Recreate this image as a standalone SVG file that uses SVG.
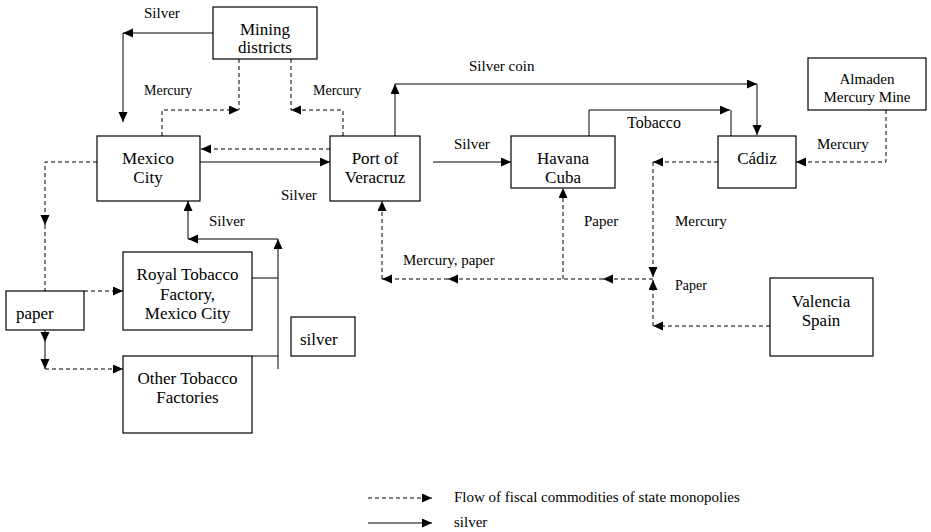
<svg xmlns="http://www.w3.org/2000/svg" width="931" height="532" viewBox="0 0 931 532" font-family="'Liberation Serif', 'Times New Roman', serif">
<defs>
<marker id="ah" markerUnits="userSpaceOnUse" markerWidth="11" markerHeight="10" refX="10" refY="4.5" orient="auto">
<path d="M0,0 L10,4.5 L0,9 z" fill="#000"/>
</marker>
</defs>
<style>
text{font-family:'Liberation Serif','Times New Roman',serif;fill:#000}
.box{fill:#fff;stroke:#000;stroke-width:1.2}
.t{font-size:17px;text-anchor:middle}
.tl{font-size:17px}
.lb{font-size:15px}
.sm{font-size:14px}
.s{fill:none;stroke:#000;stroke-width:1}
.d{fill:none;stroke:#000;stroke-width:1;stroke-dasharray:4,3}
.a{marker-end:url(#ah)}
</style>
<rect width="931" height="532" fill="#fff"/>

<g id="connectors">
<path class="s a" d="M213,33 H123"/>
<path class="s a" d="M123,33 V122"/>
<path class="d a" d="M162,136 V110 H239"/>
<path class="d" d="M239,59 V110"/>
<path class="d a" d="M343,136 V110 H291"/>
<path class="d" d="M291,59 V110"/>
<path class="d a" d="M330,149 H201"/>
<path class="s a" d="M200,162 H330"/>
<path class="d a" d="M97,162 H45 V225"/>
<path class="d" d="M45,225 V291"/>
<path class="d a" d="M84,291 H123"/>
<path class="s a" d="M45,330 V342"/>
<path class="s a" d="M45,342 V369"/>
<path class="d a" d="M45,369 H123"/>
<path class="s" d="M252,278 H278"/>
<path class="s" d="M252,356 H278"/>
<path class="s a" d="M278,369 V239"/>
<path class="s a" d="M278,239 H188"/>
<path class="s a" d="M188,239 V201"/>
<path class="s a" d="M395,136 V84"/>
<path class="s a" d="M395,84 H757"/>
<path class="s a" d="M757,84 V135"/>
<path class="s a" d="M589,136 V110 H730"/>
<path class="s" d="M731,110 V136"/>
<path class="s a" d="M433,162 H511"/>
<path class="d a" d="M886,110 V162 H796"/>
<path class="d a" d="M718,162 H653"/>
<path class="d a" d="M653,162 V277"/>
<path class="d a" d="M770,326 H653"/>
<path class="d a" d="M653,326 V280"/>
<path class="d a" d="M653,279 H603"/>
<path class="d a" d="M603,279 H448"/>
<path class="d a" d="M448,279 H382"/>
<path class="d a" d="M382,279 V201"/>
<path class="d a" d="M563,279 V188"/>

<text class="lb" x="144" y="18">Silver</text>
<text class="sm" x="144" y="95">Mercury</text>
<text class="sm" x="313" y="95">Mercury</text>
<text class="lb" x="281" y="200">Silver</text>
<text class="lb" x="209" y="226">Silver</text>
<text class="lb" x="469" y="71">Silver coin</text>
<text class="lb" x="454" y="149">Silver</text>
<text class="tl" x="627" y="128" style="font-size:16px">Tobacco</text>
<text class="lb" x="817" y="149">Mercury</text>
<text class="lb" x="675" y="226">Mercury</text>
<text class="lb" x="584" y="226">Paper</text>
<text class="lb" x="403" y="265">Mercury, paper</text>
<text class="sm" x="675" y="290">Paper</text>
</g>

<g id="mining">
<rect class="box" x="213" y="7" width="104" height="52"/>
<text class="t" x="265" y="35">Mining</text>
<text class="t" x="265" y="53">districts</text>
</g>
<g id="mexico">
<rect class="box" x="97" y="136" width="103" height="65"/>
<text class="t" x="148" y="164">Mexico</text>
<text class="t" x="148" y="183">City</text>
</g>
<g id="veracruz">
<rect class="box" x="330" y="136" width="90" height="65"/>
<text class="t" x="375" y="164">Port of</text>
<text class="t" x="375" y="183">Veracruz</text>
</g>
<g id="havana">
<rect class="box" x="511" y="136" width="104" height="52"/>
<text class="t" x="563" y="164">Havana</text>
<text class="t" x="563" y="183">Cuba</text>
</g>
<g id="cadiz">
<rect class="box" x="718" y="136" width="78" height="52"/>
<text class="t" x="757" y="164">Cádiz</text>
</g>
<g id="almaden">
<rect class="box" x="808" y="58" width="118" height="52"/>
<text class="t" x="867" y="84" style="font-size:15px">Almaden</text>
<text class="t" x="867" y="102" style="font-size:15px">Mercury Mine</text>
</g>
<g id="valencia">
<rect class="box" x="770" y="278" width="103" height="78"/>
<text class="t" x="821" y="307">Valencia</text>
<text class="t" x="821" y="326">Spain</text>
</g>
<g id="royal">
<rect class="box" x="123" y="252" width="129" height="78"/>
<text class="t" x="187.5" y="280">Royal Tobacco</text>
<text class="t" x="187.5" y="300">Factory,</text>
<text class="t" x="187.5" y="319">Mexico City</text>
</g>
<g id="paper">
<rect class="box" x="6" y="291" width="78" height="39"/>
<text class="tl" x="16" y="319">paper</text>
</g>
<g id="other">
<rect class="box" x="123" y="356" width="129" height="77"/>
<text class="t" x="187.5" y="384">Other Tobacco</text>
<text class="t" x="187.5" y="403">Factories</text>
</g>
<g id="silverbox">
<rect class="box" x="291" y="317" width="64" height="39"/>
<text class="tl" x="300" y="345">silver</text>
</g>

<g id="legend">
<path class="d a" d="M368,498 H432"/>
<path class="s a" d="M368,523 H432"/>
<text class="lb" x="454" y="502">Flow of fiscal commodities of state monopolies</text>
<text class="lb" x="454" y="527">silver</text>
</g>
</svg>
